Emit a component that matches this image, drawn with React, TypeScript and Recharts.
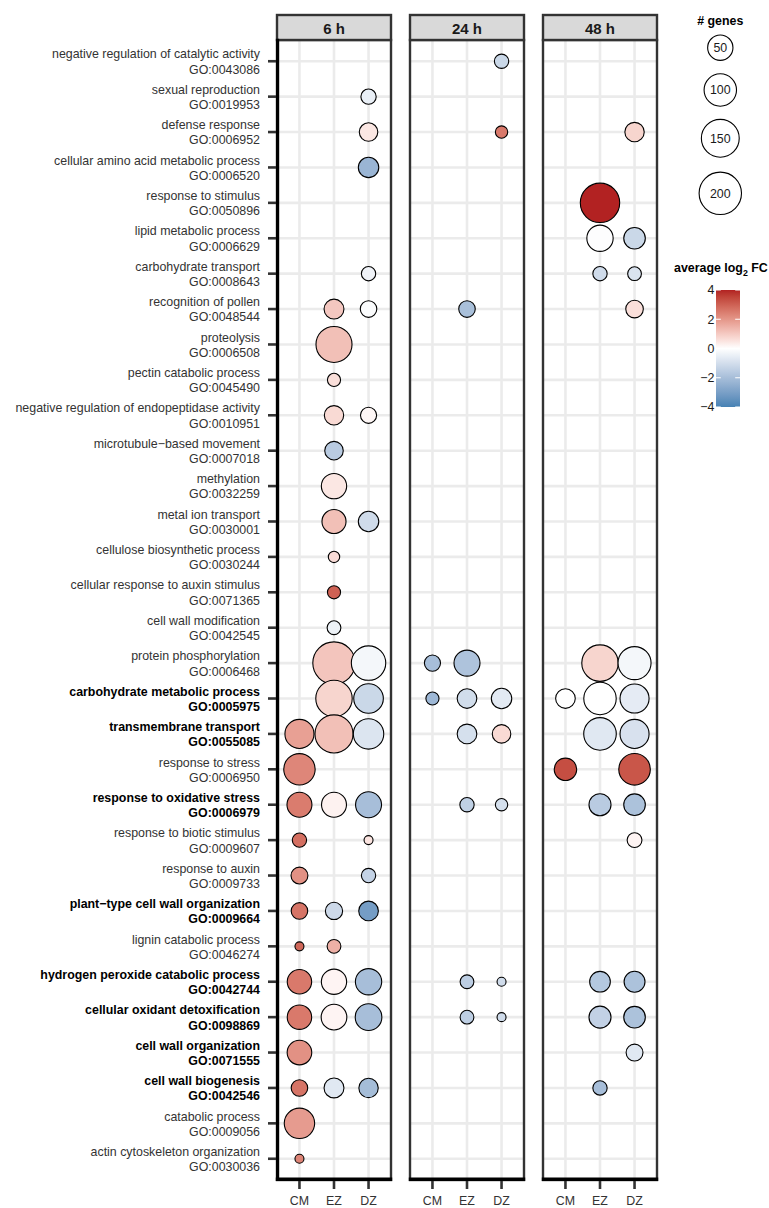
import React from 'react';
import { ScatterChart, Scatter, XAxis, YAxis, ZAxis, CartesianGrid } from 'recharts';

// ---------------- data ----------------
const terms = [
  'negative regulation of catalytic activity',
  'sexual reproduction',
  'defense response',
  'cellular amino acid metabolic process',
  'response to stimulus',
  'lipid metabolic process',
  'carbohydrate transport',
  'recognition of pollen',
  'proteolysis',
  'pectin catabolic process',
  'negative regulation of endopeptidase activity',
  'microtubule\u2212based movement',
  'methylation',
  'metal ion transport',
  'cellulose biosynthetic process',
  'cellular response to auxin stimulus',
  'cell wall modification',
  'protein phosphorylation',
  'carbohydrate metabolic process',
  'transmembrane transport',
  'response to stress',
  'response to oxidative stress',
  'response to biotic stimulus',
  'response to auxin',
  'plant\u2212type cell wall organization',
  'lignin catabolic process',
  'hydrogen peroxide catabolic process',
  'cellular oxidant detoxification',
  'cell wall organization',
  'cell wall biogenesis',
  'catabolic process',
  'actin cytoskeleton organization',
];

const goIds = [
  'GO:0043086', 'GO:0019953', 'GO:0006952', 'GO:0006520', 'GO:0050896', 'GO:0006629',
  'GO:0008643', 'GO:0048544', 'GO:0006508', 'GO:0045490', 'GO:0010951', 'GO:0007018',
  'GO:0032259', 'GO:0030001', 'GO:0030244', 'GO:0071365', 'GO:0042545', 'GO:0006468',
  'GO:0005975', 'GO:0055085', 'GO:0006950', 'GO:0006979', 'GO:0009607', 'GO:0009733',
  'GO:0009664', 'GO:0046274', 'GO:0042744', 'GO:0098869', 'GO:0071555', 'GO:0042546',
  'GO:0009056', 'GO:0030036',
];

const boldGoIds = [
  'GO:0005975', 'GO:0055085', 'GO:0006979', 'GO:0009664',
  'GO:0042744', 'GO:0098869', 'GO:0071555', 'GO:0042546',
];

const tissues = ['CM', 'EZ', 'DZ'];
const timepoints = ['6 h', '24 h', '48 h'];
const sizeBreaks = [50, 100, 150, 200];
const fcBreaks = [4, 2, 0, -2, -4];

type Bubble = { go: string; tissue: string; genes: number; fc: number };

const bubbles6h: Bubble[] = [
  { go: 'GO:0019953', tissue: 'DZ', genes: 10, fc: -0.5 },
  { go: 'GO:0006952', tissue: 'DZ', genes: 19, fc: 0.45 },
  { go: 'GO:0006520', tissue: 'DZ', genes: 26, fc: -2.3 },
  { go: 'GO:0008643', tissue: 'DZ', genes: 8, fc: -0.35 },
  { go: 'GO:0048544', tissue: 'EZ', genes: 24, fc: 1.05 },
  { go: 'GO:0048544', tissue: 'DZ', genes: 13, fc: -0.1 },
  { go: 'GO:0006508', tissue: 'EZ', genes: 132, fc: 1.2 },
  { go: 'GO:0045490', tissue: 'EZ', genes: 6, fc: 0.6 },
  { go: 'GO:0010951', tissue: 'EZ', genes: 22, fc: 0.7 },
  { go: 'GO:0010951', tissue: 'DZ', genes: 12, fc: 0.15 },
  { go: 'GO:0007018', tissue: 'EZ', genes: 19, fc: -1.6 },
  { go: 'GO:0032259', tissue: 'EZ', genes: 50, fc: 0.45 },
  { go: 'GO:0030001', tissue: 'EZ', genes: 43, fc: 1.2 },
  { go: 'GO:0030001', tissue: 'DZ', genes: 26, fc: -1.1 },
  { go: 'GO:0030244', tissue: 'EZ', genes: 4, fc: 0.65 },
  { go: 'GO:0071365', tissue: 'EZ', genes: 6, fc: 3.0 },
  { go: 'GO:0042545', tissue: 'EZ', genes: 7, fc: -0.4 },
  { go: 'GO:0006468', tissue: 'EZ', genes: 200, fc: 1.1 },
  { go: 'GO:0006468', tissue: 'DZ', genes: 117, fc: -0.25 },
  { go: 'GO:0005975', tissue: 'EZ', genes: 136, fc: 0.8 },
  { go: 'GO:0005975', tissue: 'DZ', genes: 78, fc: -1.2 },
  { go: 'GO:0055085', tissue: 'CM', genes: 74, fc: 1.8 },
  { go: 'GO:0055085', tissue: 'EZ', genes: 152, fc: 1.2 },
  { go: 'GO:0055085', tissue: 'DZ', genes: 84, fc: -0.8 },
  { go: 'GO:0006950', tissue: 'CM', genes: 92, fc: 2.3 },
  { go: 'GO:0006979', tissue: 'CM', genes: 48, fc: 2.5 },
  { go: 'GO:0006979', tissue: 'EZ', genes: 48, fc: 0.25 },
  { go: 'GO:0006979', tissue: 'DZ', genes: 54, fc: -2.0 },
  { go: 'GO:0009607', tissue: 'CM', genes: 8, fc: 2.75 },
  { go: 'GO:0009607', tissue: 'DZ', genes: 3, fc: 0.5 },
  { go: 'GO:0009733', tissue: 'CM', genes: 14, fc: 2.1 },
  { go: 'GO:0009733', tissue: 'DZ', genes: 8, fc: -1.35 },
  { go: 'GO:0009664', tissue: 'CM', genes: 13, fc: 2.65 },
  { go: 'GO:0009664', tissue: 'EZ', genes: 15, fc: -1.15 },
  { go: 'GO:0009664', tissue: 'DZ', genes: 23, fc: -3.1 },
  { go: 'GO:0046274', tissue: 'CM', genes: 3, fc: 2.9 },
  { go: 'GO:0046274', tissue: 'EZ', genes: 7, fc: 1.5 },
  { go: 'GO:0042744', tissue: 'CM', genes: 45, fc: 2.55 },
  { go: 'GO:0042744', tissue: 'EZ', genes: 50, fc: 0.2 },
  { go: 'GO:0042744', tissue: 'DZ', genes: 56, fc: -2.0 },
  { go: 'GO:0098869', tissue: 'CM', genes: 45, fc: 2.55 },
  { go: 'GO:0098869', tissue: 'EZ', genes: 52, fc: 0.2 },
  { go: 'GO:0098869', tissue: 'DZ', genes: 58, fc: -2.0 },
  { go: 'GO:0071555', tissue: 'CM', genes: 46, fc: 2.1 },
  { go: 'GO:0042546', tissue: 'CM', genes: 13, fc: 2.65 },
  { go: 'GO:0042546', tissue: 'EZ', genes: 24, fc: -0.7 },
  { go: 'GO:0042546', tissue: 'DZ', genes: 22, fc: -2.05 },
  { go: 'GO:0009056', tissue: 'CM', genes: 84, fc: 1.9 },
  { go: 'GO:0030036', tissue: 'CM', genes: 3, fc: 2.35 },
];

const bubbles24h: Bubble[] = [
  { go: 'GO:0043086', tissue: 'DZ', genes: 8, fc: -1.2 },
  { go: 'GO:0006952', tissue: 'DZ', genes: 5, fc: 2.55 },
  { go: 'GO:0048544', tissue: 'EZ', genes: 13, fc: -1.95 },
  { go: 'GO:0006468', tissue: 'CM', genes: 12, fc: -2.0 },
  { go: 'GO:0006468', tissue: 'EZ', genes: 54, fc: -1.85 },
  { go: 'GO:0005975', tissue: 'CM', genes: 6, fc: -2.2 },
  { go: 'GO:0005975', tissue: 'EZ', genes: 23, fc: -1.05 },
  { go: 'GO:0005975', tissue: 'DZ', genes: 26, fc: -0.65 },
  { go: 'GO:0055085', tissue: 'EZ', genes: 23, fc: -0.95 },
  { go: 'GO:0055085', tissue: 'DZ', genes: 19, fc: 0.7 },
  { go: 'GO:0006979', tissue: 'EZ', genes: 8, fc: -1.45 },
  { go: 'GO:0006979', tissue: 'DZ', genes: 5, fc: -0.95 },
  { go: 'GO:0042744', tissue: 'EZ', genes: 7, fc: -1.5 },
  { go: 'GO:0042744', tissue: 'DZ', genes: 3, fc: -1.1 },
  { go: 'GO:0098869', tissue: 'EZ', genes: 7, fc: -1.5 },
  { go: 'GO:0098869', tissue: 'DZ', genes: 3, fc: -1.1 },
];

const bubbles48h: Bubble[] = [
  { go: 'GO:0006952', tissue: 'DZ', genes: 22, fc: 0.8 },
  { go: 'GO:0050896', tissue: 'EZ', genes: 166, fc: 4.0 },
  { go: 'GO:0006629', tissue: 'EZ', genes: 56, fc: -0.05 },
  { go: 'GO:0006629', tissue: 'DZ', genes: 31, fc: -1.2 },
  { go: 'GO:0008643', tissue: 'EZ', genes: 8, fc: -1.1 },
  { go: 'GO:0008643', tissue: 'DZ', genes: 7, fc: -0.85 },
  { go: 'GO:0048544', tissue: 'DZ', genes: 16, fc: 0.6 },
  { go: 'GO:0006468', tissue: 'EZ', genes: 136, fc: 0.8 },
  { go: 'GO:0006468', tissue: 'DZ', genes: 105, fc: -0.25 },
  { go: 'GO:0005975', tissue: 'CM', genes: 23, fc: 0.0 },
  { go: 'GO:0005975', tissue: 'EZ', genes: 100, fc: 0.0 },
  { go: 'GO:0005975', tissue: 'DZ', genes: 74, fc: -0.6 },
  { go: 'GO:0055085', tissue: 'EZ', genes: 101, fc: -0.7 },
  { go: 'GO:0055085', tissue: 'DZ', genes: 74, fc: -0.9 },
  { go: 'GO:0006950', tissue: 'CM', genes: 35, fc: 3.35 },
  { go: 'GO:0006950', tissue: 'DZ', genes: 93, fc: 3.2 },
  { go: 'GO:0006979', tissue: 'EZ', genes: 33, fc: -1.6 },
  { go: 'GO:0006979', tissue: 'DZ', genes: 31, fc: -1.9 },
  { go: 'GO:0009607', tissue: 'DZ', genes: 9, fc: 0.2 },
  { go: 'GO:0042744', tissue: 'EZ', genes: 27, fc: -1.7 },
  { go: 'GO:0042744', tissue: 'DZ', genes: 28, fc: -1.9 },
  { go: 'GO:0098869', tissue: 'EZ', genes: 33, fc: -1.4 },
  { go: 'GO:0098869', tissue: 'DZ', genes: 31, fc: -1.9 },
  { go: 'GO:0071555', tissue: 'DZ', genes: 14, fc: -0.7 },
  { go: 'GO:0042546', tissue: 'EZ', genes: 8, fc: -2.0 },
];

const panelBubbles = [bubbles6h, bubbles24h, bubbles48h];

// ---------------- styling ----------------
const FONT = '"Liberation Sans", Arial, Helvetica, sans-serif';
const N_MIN = 3;
const N_MAX = 200;
const R_MIN = 4.5;
const R_MAX = 21.2;
const FC_LIM = 4;
const LOW_RGB = [70, 130, 180];
const MID_RGB = [255, 255, 255];
const HIGH_RGB = [178, 34, 34];

const PLOT_TOP = 40;
const PLOT_H = 1140;
const PLOT_W = 114;
const PANEL_LEFTS = [277, 410, 543];
const CHART_H = 1208;
const XAXIS_H = CHART_H - PLOT_TOP - PLOT_H;
const Y_AXIS_W = 277;

const rowTicks = terms.map((_, i) => i + 1);
const colTicks = tissues.map((_, i) => i + 1);

// ---------------- colour (Lab interpolation) ----------------
function toLin(c: number) {
  const v = c / 255;
  return v <= 0.04045 ? v / 12.92 : Math.pow((v + 0.055) / 1.055, 2.4);
}
function fromLin(c: number) {
  const v = c <= 0.0031308 ? 12.92 * c : 1.055 * Math.pow(c, 1 / 2.4) - 0.055;
  return Math.round(Math.min(1, Math.max(0, v)) * 255);
}
function rgbToLab(rgb: number[]) {
  const R = toLin(rgb[0]);
  const G = toLin(rgb[1]);
  const B = toLin(rgb[2]);
  const X = (0.4124564 * R + 0.3575761 * G + 0.1804375 * B) / 0.95047;
  const Y = 0.2126729 * R + 0.7151522 * G + 0.072175 * B;
  const Z = (0.0193339 * R + 0.119192 * G + 0.9503041 * B) / 1.08883;
  const f = (t: number) => (t > 0.008856 ? Math.cbrt(t) : 7.787 * t + 16 / 116);
  const fx = f(X);
  const fy = f(Y);
  const fz = f(Z);
  return [116 * fy - 16, 500 * (fx - fy), 200 * (fy - fz)];
}
function labToHex(lab: number[]) {
  const fy = (lab[0] + 16) / 116;
  const fx = fy + lab[1] / 500;
  const fz = fy - lab[2] / 200;
  const inv = (t: number) => (t * t * t > 0.008856 ? t * t * t : (t - 16 / 116) / 7.787);
  const X = inv(fx) * 0.95047;
  const Y = inv(fy);
  const Z = inv(fz) * 1.08883;
  const r = fromLin(3.2404542 * X - 1.5371385 * Y - 0.4985314 * Z);
  const g = fromLin(-0.969266 * X + 1.8760108 * Y + 0.041556 * Z);
  const b = fromLin(0.0556434 * X - 0.2040259 * Y + 1.0572252 * Z);
  return '#' + [r, g, b].map((v) => v.toString(16).padStart(2, '0')).join('');
}
const LOW_LAB = rgbToLab(LOW_RGB);
const MID_LAB = rgbToLab(MID_RGB);
const HIGH_LAB = rgbToLab(HIGH_RGB);
function fcColor(v: number) {
  const t = Math.max(-1, Math.min(1, v / FC_LIM));
  const end = t >= 0 ? HIGH_LAB : LOW_LAB;
  const a = Math.abs(t);
  return labToHex(MID_LAB.map((m, i) => m + (end[i] - m) * a));
}

// size mapping shared by the ZAxis and the legend
const zOf = (d: any) => Math.sqrt(Math.max(d.genes - N_MIN, 0));
const Z_DOMAIN = [0, Math.sqrt(N_MAX - N_MIN)];
const radiusOf = (n: number) =>
  R_MIN + ((R_MAX - R_MIN) * Math.sqrt(Math.max(n - N_MIN, 0))) / Z_DOMAIN[1];

// ---------------- pieces ----------------
const BubbleShape = (props: any) => {
  const { cx, cy, payload } = props;
  const r = typeof props.size === 'number' ? props.size : (props.width || 0) / 2;
  if (cx == null || cy == null) return null;
  return (
    <circle cx={cx} cy={cy} r={r} fill={fcColor(payload.fc)} stroke="#000000" strokeWidth={1.1} />
  );
};

const YTick = (props: any) => {
  const { x, y, payload } = props;
  const i = Math.round(payload.value) - 1;
  if (i < 0 || i >= terms.length) return null;
  const bold = boldGoIds.includes(goIds[i]);
  return (
    <text
      x={x}
      y={y}
      textAnchor="end"
      fontFamily={FONT}
      fontSize={12.4}
      fontWeight={bold ? 'bold' : 'normal'}
      fill={bold ? '#000000' : '#333333'}
    >
      <tspan x={x} dy={-2.8}>{terms[i]}</tspan>
      <tspan x={x} dy={15.2}>{goIds[i]}</tspan>
    </text>
  );
};

const XTick = (props: any) => {
  const { x, y, payload } = props;
  return (
    <text x={x} y={y} dy={14.3} textAnchor="middle" fontFamily={FONT} fontSize={12.4} fill="#333333">
      {tissues[Math.round(payload.value) - 1]}
    </text>
  );
};

const NoTick = () => <g />;

function Panel({ index }: { index: number }) {
  const showY = index === 0;
  const yW = showY ? Y_AXIS_W : 0;
  const data = panelBubbles[index].map((b) => ({
    x: tissues.indexOf(b.tissue) + 1,
    y: goIds.indexOf(b.go) + 1,
    genes: b.genes,
    fc: b.fc,
  }));
  return (
    <div style={{ position: 'absolute', left: PANEL_LEFTS[index] - yW, top: 0 }}>
      <ScatterChart
        width={yW + PLOT_W + 2}
        height={CHART_H}
        margin={{ top: PLOT_TOP, right: 2, bottom: 0, left: 0 }}
      >
        <CartesianGrid
          stroke="#EBEBEB"
          strokeWidth={2.6}
          horizontalValues={rowTicks}
          verticalValues={colTicks}
        />
        <XAxis
          type="number"
          dataKey="x"
          domain={[0.35, 3.65]}
          ticks={colTicks}
          interval={0}
          allowDataOverflow
          height={XAXIS_H}
          tickSize={9}
          tickMargin={2}
          axisLine={false}
          tickLine={{ stroke: '#333333', strokeWidth: 2.6 }}
          tick={<XTick />}
        />
        {showY ? (
          <YAxis
            type="number"
            dataKey="y"
            domain={[0.4, 32.6]}
            reversed
            ticks={rowTicks}
            interval={0}
            allowDataOverflow
            width={yW}
            tickSize={9}
            tickMargin={8}
            axisLine={false}
            tickLine={{ stroke: '#333333', strokeWidth: 2.6 }}
            tick={<YTick />}
          />
        ) : (
          <YAxis
            type="number"
            dataKey="y"
            domain={[0.4, 32.6]}
            reversed
            ticks={rowTicks}
            interval={0}
            allowDataOverflow
            width={0}
            tick={<NoTick />}
            tickLine={false}
            axisLine={false}
          />
        )}
        <ZAxis type="number" dataKey={zOf} domain={Z_DOMAIN} range={[R_MIN, R_MAX]} />
        <Scatter data={data} shape={BubbleShape} isAnimationActive={false} />
      </ScatterChart>
    </div>
  );
}

function Overlay() {
  const gradStops = [];
  for (let k = 0; k <= 32; k++) {
    const v = FC_LIM - (2 * FC_LIM * k) / 32;
    gradStops.push(<stop key={k} offset={`${(k / 32) * 100}%`} stopColor={fcColor(v)} />);
  }
  const barX = 716;
  const barW = 24;
  const barTop = 290;
  const barH = 117;
  const fcY = (v: number) => barTop + ((FC_LIM - v) / (2 * FC_LIM)) * barH;
  const legendCy = [47.7, 90, 138.3, 193.3];
  const legendCx = 720.3;
  return (
    <svg
      width={769}
      height={1208}
      style={{ position: 'absolute', left: 0, top: 0, pointerEvents: 'none' }}
      fontFamily={FONT}
    >
      <defs>
        <linearGradient id="fcgrad" x1="0" y1="0" x2="0" y2="1">
          {gradStops}
        </linearGradient>
      </defs>
      {PANEL_LEFTS.map((L, i) => (
        <g key={i}>
          <rect x={L} y={PLOT_TOP} width={PLOT_W} height={PLOT_H} fill="none" stroke="#333333" strokeWidth={2.4} />
          <rect x={L} y={15} width={PLOT_W} height={25} fill="#D9D9D9" stroke="#333333" strokeWidth={2.4} />
          <text x={L + PLOT_W / 2} y={34} textAnchor="middle" fontSize={15} fontWeight="bold" fill="#1A1A1A">
            {timepoints[i]}
          </text>
          <line
            x1={L - 1.2}
            x2={L + PLOT_W + 1.2}
            y1={PLOT_TOP + PLOT_H - 0.8}
            y2={PLOT_TOP + PLOT_H - 0.8}
            stroke="#000000"
            strokeWidth={3.4}
          />
        </g>
      ))}
      <line x1={277.6} x2={277.6} y1={PLOT_TOP - 1.2} y2={PLOT_TOP + PLOT_H + 0.9} stroke="#000000" strokeWidth={3.2} />

      {/* size legend */}
      <text x={legendCx} y={25} textAnchor="middle" fontSize={12.4} fontWeight="bold" fill="#000000">
        # genes
      </text>
      {sizeBreaks.map((n, i) => (
        <g key={n}>
          <circle cx={legendCx} cy={legendCy[i]} r={radiusOf(n)} fill="#FFFFFF" stroke="#000000" strokeWidth={1.1} />
          <text x={legendCx} y={legendCy[i] + 4.4} textAnchor="middle" fontSize={12.4} fill="#1A1A1A">
            {n}
          </text>
        </g>
      ))}

      {/* colour legend */}
      <text x={674} y={272} fontSize={12.4} fontWeight="bold" fill="#000000">
        average log
        <tspan dy={4} fontSize={8.8}>2</tspan>
        <tspan dy={-4}> FC</tspan>
      </text>
      <rect x={barX} y={barTop} width={barW} height={barH} fill="url(#fcgrad)" />
      {fcBreaks.map((v) => (
        <g key={v}>
          <line x1={barX} x2={barX + 4.8} y1={fcY(v)} y2={fcY(v)} stroke="#FFFFFF" strokeWidth={1} />
          <line x1={barX + barW - 4.8} x2={barX + barW} y1={fcY(v)} y2={fcY(v)} stroke="#FFFFFF" strokeWidth={1} />
          <text x={barX - 1.5} y={fcY(v) + 4.4} textAnchor="end" fontSize={12.4} fill="#1A1A1A">
            {v < 0 ? `\u2212${Math.abs(v)}` : `${v}`}
          </text>
        </g>
      ))}
    </svg>
  );
}

export default function App() {
  return (
    <div
      style={{
        position: 'absolute',
        left: 0,
        top: 0,
        width: 769,
        height: 1208,
        background: '#FFFFFF',
        fontFamily: FONT,
        overflow: 'hidden',
      }}
    >
      <Panel index={0} />
      <Panel index={1} />
      <Panel index={2} />
      <Overlay />
    </div>
  );
}
